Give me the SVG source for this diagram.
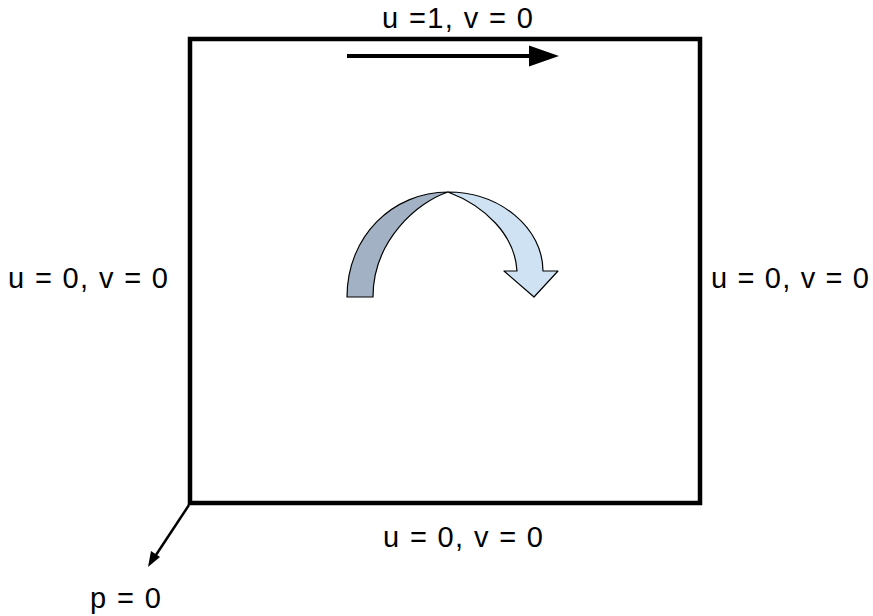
<svg xmlns="http://www.w3.org/2000/svg" width="873" height="616" viewBox="0 0 873 616">
<style>
text{font-family:"Liberation Sans",Arial,sans-serif;font-size:29px;fill:#000}
.ln{stroke:#000;fill:none}
</style>
<rect width="873" height="616" fill="#fff"/>
<g id="box"><rect x="190" y="39" width="510" height="464" class="ln" stroke-width="4.5"/></g>
<g id="curved-arrow" stroke="#000" stroke-width="1.2" stroke-linejoin="round">
<path d="M347,297 C347,236 393,192 448,192 C418,202 373,240 373,297 Z" fill="#a2b1c3"/>
<path d="M448,192 C500,192 543,228 543,271 L558,271 L534,297 L504,271 L517,271 C515,235 485,206 448,192 Z" fill="#cfe2f3"/>
</g>
<g id="connectors">
<line x1="347" y1="56" x2="531" y2="56" class="ln" stroke-width="4"/>
<polygon points="529,45.5 559,56 529,66.5" fill="#000"/>
<line x1="189" y1="505" x2="152" y2="561" class="ln" stroke-width="2.5"/>
<polygon points="148,567 151,551 160,557" fill="#000"/>
</g>
<g id="labels">
<text x="382" y="28" textLength="151">u =1, v = 0</text>
<text x="8" y="288" textLength="160">u = 0, v = 0</text>
<text x="711" y="288" textLength="158">u = 0, v = 0</text>
<text x="383" y="547" textLength="160">u = 0, v = 0</text>
<text x="90" y="608" textLength="71">p = 0</text>
</g>
</svg>
